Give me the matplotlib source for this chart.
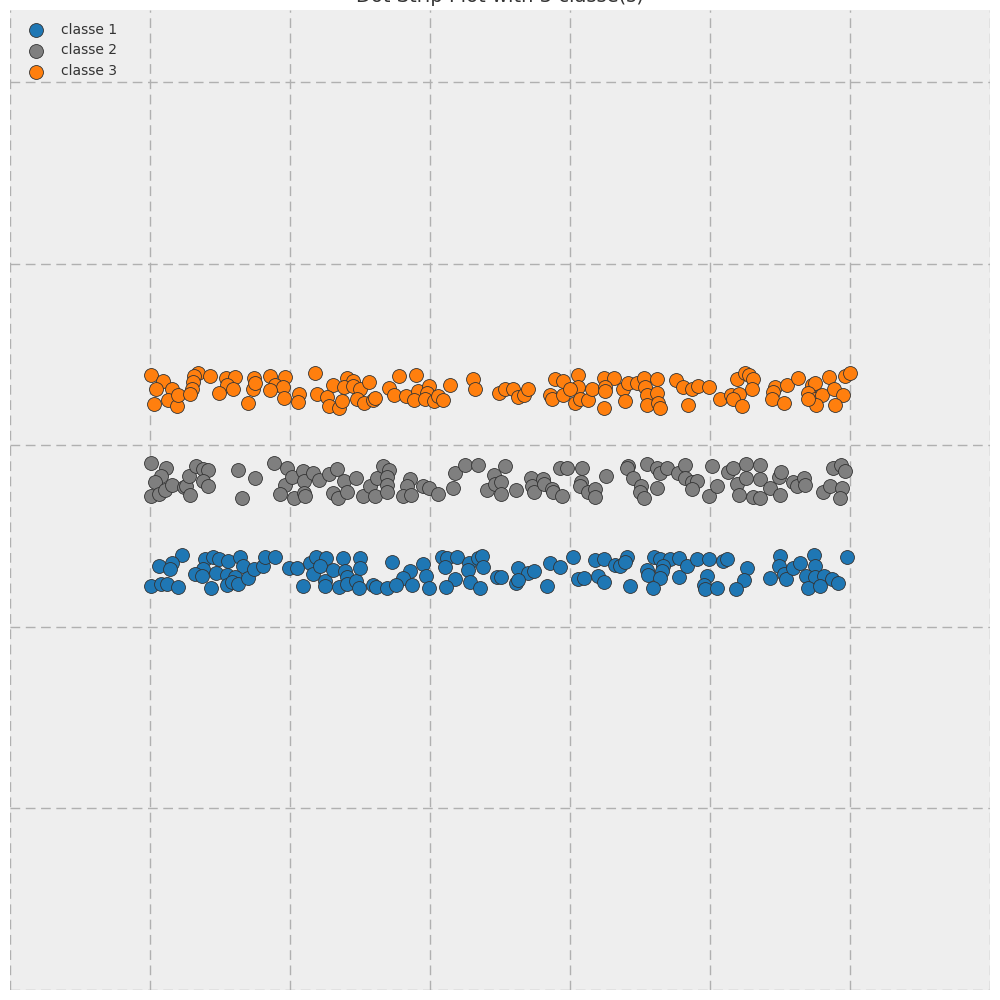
import matplotlib
matplotlib.use("Agg")
import matplotlib.pyplot as plt

classes = ["classe 1", "classe 2", "classe 3"]
colors = ["#1f77b4", "#7f7f7f", "#ff7f0e"]

# classe 1
x1 = [0.046, 0.032, 0.013, 0.028, 0.002, 0.015, 0.024, 0.040, 0.079, 0.090, 0.099, 0.112,
      0.129, 0.133, 0.075, 0.064, 0.074, 0.094, 0.110, 0.121, 0.087, 0.110, 0.117, 0.126,
      0.140, 0.149, 0.161, 0.164, 0.179, 0.198, 0.210, 0.219, 0.229, 0.237, 0.251, 0.233,
      0.243, 0.250, 0.250, 0.262, 0.275, 0.279, 0.281, 0.270, 0.281, 0.294, 0.300, 0.300,
      0.299, 0.319, 0.323, 0.338, 0.346, 0.372, 0.362, 0.352, 0.374, 0.390, 0.394, 0.398,
      0.417, 0.424, 0.438, 0.421, 0.436, 0.423, 0.455, 0.454, 0.469, 0.474, 0.476, 0.457,
      0.471, 0.495,
      0.502, 0.525, 0.540, 0.548, 0.523, 0.526, 0.571, 0.585, 0.567, 0.604, 0.612, 0.620,
      0.636, 0.649, 0.664, 0.671, 0.681, 0.679, 0.640, 0.649, 0.685, 0.720, 0.728, 0.743,
      0.755, 0.733, 0.731, 0.710, 0.711, 0.729, 0.756, 0.767, 0.718, 0.782, 0.798, 0.818,
      0.824, 0.796, 0.791, 0.793, 0.810, 0.853, 0.848, 0.837, 0.900, 0.899, 0.886, 0.905,
      0.909, 0.919, 0.929, 0.949, 0.950, 0.937, 0.950, 0.963, 0.974, 0.983, 0.940, 0.957,
      0.996]
y1 = [1.18, 1.09, 1.05, 1.02, 0.83, 0.86, 0.86, 0.82, 1.13, 1.15, 1.13, 1.11,
      1.16, 1.05, 1.02, 0.97, 0.94, 0.98, 0.96, 0.93, 0.81, 0.85, 0.88, 0.86,
      0.92, 1.02, 1.05, 1.16, 1.16, 1.03, 1.03, 0.83, 1.09, 1.15, 1.14, 0.97,
      1.06, 0.89, 0.83, 1.01, 1.14, 1.00, 0.93, 0.82, 0.86, 0.89, 1.14, 1.03,
      0.81, 0.85, 0.82, 0.81, 1.10, 1.00, 0.92, 0.85, 0.85, 1.08, 0.94, 0.81,
      1.16, 1.14, 1.15, 1.04, 0.91, 0.82, 1.09, 1.01, 1.14, 1.17, 1.04, 0.88,
      0.81, 0.93,
      0.93, 1.03, 0.98, 1.00, 0.87, 0.90, 1.09, 1.04, 0.83, 1.16, 0.91, 0.92,
      1.12, 1.13, 1.07, 1.05, 1.15, 1.10, 0.94, 0.88, 0.84, 1.16, 1.13, 1.13,
      1.14, 1.05, 1.00, 1.01, 0.96, 0.92, 0.93, 1.05, 0.81, 1.13, 1.13, 1.11,
      1.13, 0.95, 0.85, 0.80, 0.81, 1.03, 0.90, 0.80, 1.17, 1.05, 0.92, 0.97,
      0.91, 1.03, 1.09, 1.18, 1.05, 0.94, 0.93, 0.95, 0.91, 0.87, 0.81, 0.84,
      1.16]

# classe 2
x2 = [0.001, 0.023, 0.015, 0.007, 0.002, 0.013, 0.021, 0.032, 0.048, 0.052, 0.057, 0.055,
      0.066, 0.075, 0.083, 0.076, 0.083, 0.125, 0.150, 0.132, 0.177, 0.196, 0.193, 0.203,
      0.186, 0.205, 0.219, 0.220, 0.220, 0.221, 0.233, 0.241, 0.255, 0.267, 0.277, 0.262,
      0.268, 0.282, 0.294, 0.304, 0.314, 0.324, 0.333, 0.342, 0.339, 0.338, 0.321, 0.338,
      0.371, 0.367, 0.362, 0.373, 0.390, 0.399, 0.412, 0.433, 0.436, 0.450, 0.468, 0.481,
      0.491, 0.493,
      0.507, 0.502, 0.502, 0.523, 0.544, 0.545, 0.548, 0.562, 0.563, 0.574, 0.576, 0.588,
      0.586, 0.595, 0.617, 0.616, 0.614, 0.626, 0.636, 0.636, 0.651, 0.683, 0.681, 0.690,
      0.710, 0.724, 0.729, 0.738, 0.702, 0.724, 0.700, 0.705, 0.754, 0.764, 0.764, 0.774,
      0.782, 0.774, 0.803, 0.798, 0.810, 0.826, 0.833, 0.838, 0.842, 0.852, 0.851, 0.861,
      0.872, 0.871, 0.872, 0.886, 0.898, 0.902, 0.900, 0.918, 0.924, 0.934, 0.936, 0.962,
      0.971, 0.976, 0.987, 0.993, 0.988, 0.986]
y2 = [2.19, 2.14, 2.05, 1.98, 1.83, 1.85, 1.89, 1.95, 1.93, 1.94, 1.84, 2.05,
      2.16, 2.12, 2.11, 1.99, 1.94, 2.11, 2.02, 1.80, 2.19, 2.14, 1.95, 2.04,
      1.85, 1.81, 2.10, 1.99, 1.86, 1.83, 2.08, 2.00, 2.07, 2.12, 1.99, 1.86,
      1.81, 1.87, 2.03, 1.83, 1.94, 2.03, 2.16, 2.11, 2.04, 1.95, 1.83, 1.87,
      2.01, 1.94, 1.83, 1.84, 1.94, 1.92, 1.85, 1.91, 2.08, 2.17, 2.17, 1.89,
      2.06, 1.96,
      2.16, 1.98, 1.85, 1.89, 2.03, 1.94, 1.87, 2.01, 1.96, 1.90, 1.87, 1.83,
      2.13, 2.13, 2.13, 1.98, 1.94, 1.87, 1.90, 1.82, 2.05, 2.16, 2.13, 2.03,
      2.18, 2.13, 2.08, 2.14, 1.94, 1.92, 1.87, 1.81, 2.08, 2.17, 2.03, 1.98,
      1.99, 1.90, 2.16, 1.83, 1.94, 2.09, 2.14, 1.96, 1.84, 2.18, 2.03, 1.82,
      2.17, 2.01, 1.81, 1.91, 2.04, 2.09, 1.84, 1.98, 1.94, 2.02, 1.95, 1.87,
      1.94, 2.14, 2.17, 2.10, 1.92, 1.80]

# classe 3
x3 = [0.001, 0.019, 0.009, 0.031, 0.006, 0.026, 0.039, 0.040, 0.069, 0.063, 0.062, 0.060,
      0.057, 0.086, 0.108, 0.121, 0.110, 0.118, 0.099, 0.148, 0.147, 0.140, 0.150, 0.171,
      0.193, 0.179, 0.190, 0.172, 0.191, 0.213, 0.212, 0.235, 0.238, 0.262, 0.253, 0.256,
      0.270, 0.274, 0.281, 0.290, 0.277, 0.290, 0.300, 0.313, 0.295, 0.306, 0.318, 0.321,
      0.356, 0.380, 0.342, 0.348, 0.365, 0.383, 0.377, 0.398, 0.395, 0.393, 0.405, 0.412,
      0.418, 0.428, 0.462, 0.464, 0.498,
      0.507, 0.519, 0.526, 0.534, 0.540, 0.578, 0.590, 0.571, 0.574, 0.590, 0.612, 0.611,
      0.600, 0.607, 0.614, 0.626, 0.631, 0.648, 0.663, 0.650, 0.650, 0.649, 0.675, 0.683,
      0.679, 0.695, 0.706, 0.724, 0.707, 0.710, 0.724, 0.710, 0.726, 0.728, 0.752, 0.762,
      0.774, 0.783, 0.799, 0.769, 0.814, 0.830, 0.839, 0.850, 0.855, 0.862, 0.860, 0.842,
      0.833, 0.845, 0.893, 0.890, 0.888, 0.905, 0.910, 0.926, 0.945, 0.950, 0.940, 0.950,
      0.960, 0.970, 0.977, 0.990, 0.979, 0.993, 1.000, 0.952, 0.940]
y3 = [3.16, 3.09, 3.00, 3.00, 2.84, 2.88, 2.82, 2.94, 3.18, 3.15, 3.08, 3.00,
      2.95, 3.15, 3.13, 3.14, 3.05, 3.01, 2.96, 3.13, 3.01, 2.85, 3.07, 3.15,
      3.14, 3.05, 3.03, 2.99, 2.91, 2.95, 2.86, 3.18, 2.95, 3.05, 2.92, 2.82,
      2.80, 2.87, 3.13, 3.09, 3.03, 3.04, 3.01, 3.08, 2.90, 2.85, 2.88, 2.91,
      3.15, 3.16, 3.02, 2.94, 2.93, 2.98, 2.88, 3.04, 2.96, 2.90, 2.87, 2.93,
      2.88, 3.05, 3.11, 3.00, 2.96,
      3.01, 3.00, 2.92, 2.94, 3.01, 3.11, 3.09, 2.94, 2.89, 2.94, 3.16, 3.03,
      3.01, 2.85, 2.90, 2.88, 3.01, 3.13, 3.13, 3.03, 2.98, 2.80, 3.01, 3.07,
      2.87, 3.07, 3.13, 3.11, 3.03, 2.94, 2.96, 2.83, 2.85, 2.80, 3.10, 3.03,
      3.00, 3.04, 3.03, 2.83, 2.89, 2.94, 3.11, 3.18, 3.16, 3.11, 3.01, 2.95,
      2.89, 2.82, 3.03, 2.97, 2.90, 2.85, 3.05, 3.13, 3.05, 3.07, 2.96, 2.89,
      2.94, 3.14, 3.01, 2.94, 2.83, 3.15, 3.18, 2.83, 2.89]

xs = [x1, x2, x3]
ys = [y1, y2, y3]

fig = plt.figure(figsize=(10, 10), dpi=100)
ax = fig.add_axes([0.01, 0.01, 0.98, 0.98])
ax.set_facecolor("#eeeeee")

for name, c, xv, yv in zip(classes, colors, xs, ys):
    ax.scatter(xv, yv, s=100, color=c, edgecolor="#333333", linewidth=0.6,
               label=name, zorder=3)

ax.set_xlim(-0.2, 1.2)
ax.set_ylim(-3.61, 7.18)
ax.set_xticks([-0.2, 0.0, 0.2, 0.4, 0.6, 0.8, 1.0, 1.2])
ax.set_yticks([-3.615, -1.615, 0.385, 2.385, 4.385, 6.385])
ax.tick_params(length=0, labelbottom=False, labelleft=False)
ax.grid(True, color="#b0b0b0", linestyle=(0, (7, 4)), linewidth=1.0, zorder=0)
ax.set_axisbelow(True)
for sp in ax.spines.values():
    sp.set_visible(False)

ax.set_title("Dot Strip Plot with 3 classe(s)", fontsize=14, color="#333333")
leg = ax.legend(loc="upper left", frameon=False, fontsize=10,
                labelcolor="#333333", handletextpad=0.8)

fig.savefig("out.png", dpi=100)
